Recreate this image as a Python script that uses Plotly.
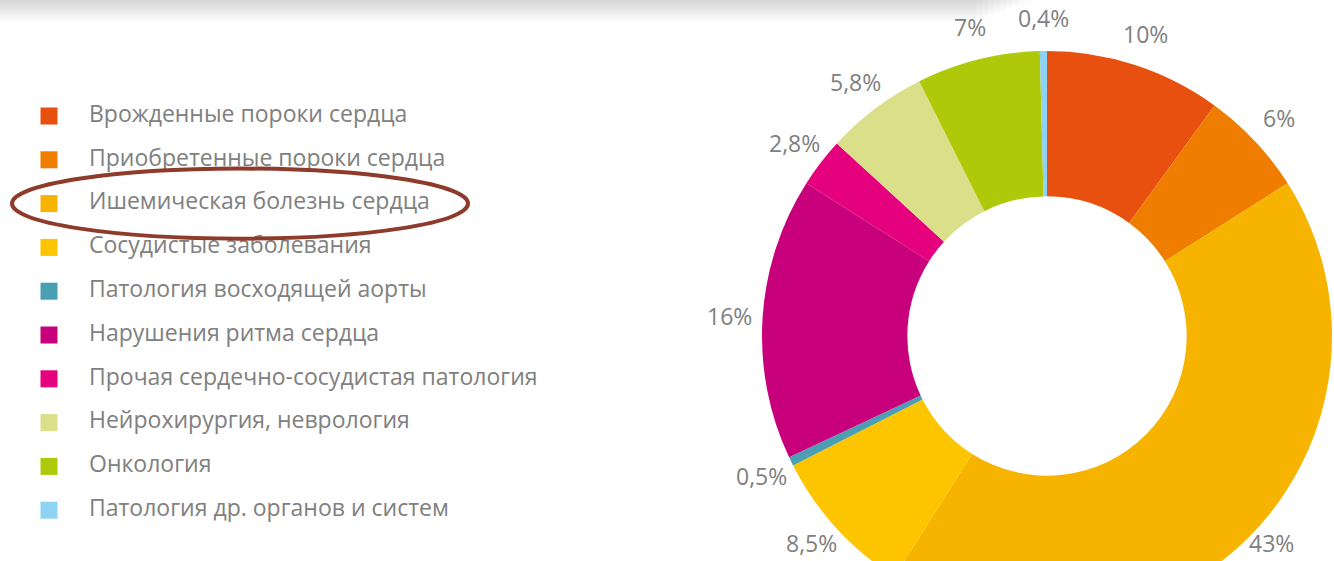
import math
import plotly.graph_objects as go

categories = [
    "Врожденные пороки сердца",
    "Приобретенные пороки сердца",
    "Ишемическая болезнь сердца",
    "Сосудистые заболевания",
    "Патология восходящей аорты",
    "Нарушения ритма сердца",
    "Прочая сердечно-сосудистая патология",
    "Нейрохирургия, неврология",
    "Онкология",
    "Патология др. органов и систем",
]
values = [10, 6, 43, 8.5, 0.5, 16, 2.8, 5.8, 7, 0.4]
value_labels = ["10%", "6%", "43%", "8,5%", "0,5%", "16%", "2,8%", "5,8%", "7%", "0,4%"]
colors = ["#E8500F", "#EF7D00", "#F6B400", "#FDC500", "#4AA0B2",
          "#C8007C", "#E5007D", "#DCDF8A", "#AEC80A", "#8ED3F3"]
highlight = "Ишемическая болезнь сердца"

W, H = 1334, 640
VISIBLE_H = 561
FONT = "Open Sans"
GRAY = "#808080"

# donut geometry (pixels)
cx, cy, R = 1047, 336, 285
label_r = 318

fig = go.Figure()

fig.add_trace(go.Pie(
    labels=categories, values=values, text=value_labels,
    textinfo="none",
    marker=dict(colors=colors, line=dict(width=0)),
    hole=0.49, sort=False, direction="clockwise", rotation=0,
    showlegend=False, hoverinfo="label+text",
    domain=dict(x=[(cx - R) / W, (cx + R) / W], y=[(H - cy - R) / H, (H - cy + R) / H]),
))

# Legend built from a scatter on a hidden category axis
fig.add_trace(go.Scatter(
    x=[49] * len(categories), y=categories, mode="markers",
    marker=dict(symbol="square", size=17, color=colors, line=dict(width=0)),
    showlegend=False, hoverinfo="skip",
))
fig.add_trace(go.Scatter(
    x=[89] * len(categories), y=categories, mode="text",
    text=categories, textposition="middle right",
    textfont=dict(family=FONT, size=23, color=GRAY),
    showlegend=False, hoverinfo="skip",
))

# percentage labels outside each slice, along the slice's mid-angle
total = sum(values)
annotations = []
cum = 0.0
for v, t in zip(values, value_labels):
    mid = (cum + v / 2) / total * 2 * math.pi
    cum += v
    px = cx + label_r * math.sin(mid)
    py = cy - label_r * math.cos(mid)
    py = min(py, VISIBLE_H - 18)  # keep bottom labels inside the visible window
    annotations.append(dict(x=px / W, y=1 - py / H, xref="paper", yref="paper",
                            text=t, showarrow=False, xanchor="center", yanchor="middle",
                            borderpad=0,
                            font=dict(family=FONT, size=23, color=GRAY)))

row0, step = 116, 43.8
y_top = -row0 / step
y_bot = (H - row0) / step
hi = categories.index(highlight)

shapes = []
# faint header shadow at the top
n = 10
for i in range(n):
    shapes.append(dict(type="rect", xref="paper", yref="paper",
                       x0=0, x1=(1030 - 6 * i) / W, y0=1 - (i + 1) * 2.2 / H, y1=1,
                       fillcolor="#000000", opacity=0.015, line=dict(width=0), layer="below"))
# highlight ellipse
shapes.append(dict(type="circle", xref="x", yref="y",
                   x0=12, x1=468, y0=hi - 0.80, y1=hi + 0.80,
                   line=dict(color="#8E3B2C", width=4)))

fig.update_layout(
    width=W, height=H,
    margin=dict(l=0, r=0, t=0, b=0),
    paper_bgcolor="white", plot_bgcolor="rgba(0,0,0,0)",
    xaxis=dict(domain=[0, 1], range=[0, W], visible=False, fixedrange=True),
    yaxis=dict(type="category", categoryorder="array", categoryarray=categories,
               range=[y_bot, y_top], visible=False, fixedrange=True),
    shapes=shapes,
    annotations=annotations,
    font=dict(family=FONT),
)

fig.write_html(
    "out.html",
    config={"displayModeBar": False},
    post_script="document.body.style.margin='0';document.body.style.overflow='hidden';"
                "document.documentElement.style.overflow='hidden';",
)
